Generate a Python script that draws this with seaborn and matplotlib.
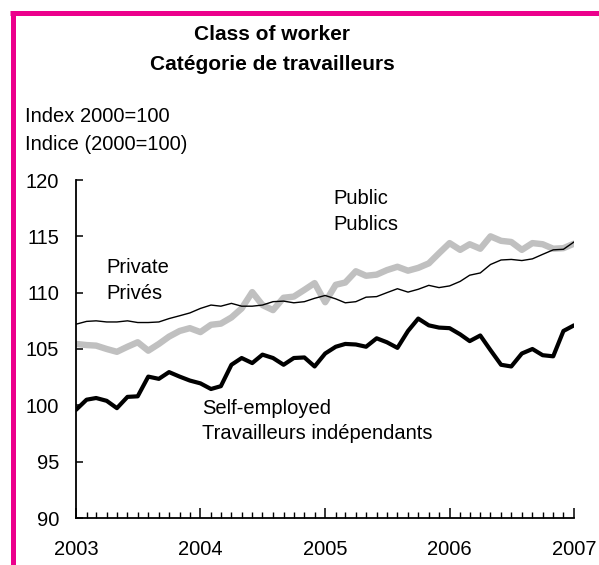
import numpy as np
import pandas as pd
import matplotlib
matplotlib.use("Agg")
import matplotlib.pyplot as plt
import matplotlib.dates as mdates
from matplotlib.lines import Line2D
import seaborn as sns

# monthly index values, Jan 2003 .. Jan 2007
months = pd.date_range("2003-01-01", "2007-01-01", freq="MS")

private = [
    107.2, 107.45, 107.5, 107.4, 107.4, 107.5, 107.35, 107.35, 107.4, 107.7,
    107.95, 108.2, 108.6, 108.9, 108.8, 109.05, 108.8, 108.8, 108.9, 109.2,
    109.25, 109.1, 109.2, 109.5, 109.75, 109.45, 109.1, 109.2, 109.6, 109.65,
    110.0, 110.35, 110.05, 110.3, 110.65, 110.45, 110.6, 111.0, 111.55, 111.75,
    112.5, 112.9, 112.95, 112.85, 113.0, 113.4, 113.8, 113.85, 114.5,
]
public = [
    105.45, 105.35, 105.3, 105.0, 104.75, 105.2, 105.6, 104.85, 105.45, 106.1,
    106.6, 106.85, 106.5, 107.15, 107.25, 107.8, 108.6, 110.05, 108.9, 108.45,
    109.55, 109.65, 110.25, 110.85, 109.15, 110.7, 110.9, 111.9, 111.5, 111.6,
    112.0, 112.3, 111.95, 112.2, 112.6, 113.5, 114.4, 113.8, 114.3, 113.9,
    115.0, 114.6, 114.5, 113.8, 114.4, 114.3, 113.9, 113.95, 114.35,
]
self_employed = [
    99.6, 100.5, 100.65, 100.4, 99.75, 100.75, 100.8, 102.55, 102.35, 102.95,
    102.55, 102.2, 101.95, 101.45, 101.7, 103.6, 104.2, 103.75, 104.5, 104.2,
    103.6, 104.2, 104.25, 103.45, 104.6, 105.2, 105.45, 105.4, 105.2, 105.95,
    105.6, 105.1, 106.6, 107.7, 107.1, 106.9, 106.85, 106.3, 105.7, 106.2,
    104.9, 103.6, 103.45, 104.6, 105.0, 104.45, 104.35, 106.6, 107.1,
]

df = pd.DataFrame({"date": months, "private": private,
                   "public": public, "self_employed": self_employed})

sns.set_style("ticks")
plt.rcParams["font.family"] = ["Liberation Sans", "DejaVu Sans"]
plt.rcParams.update({"text.color": "black", "axes.labelcolor": "black",
                     "xtick.color": "black", "ytick.color": "black"})

fig = plt.figure(figsize=(5.99, 5.65), dpi=100)
ax = fig.add_axes([76 / 599, 1 - 518 / 565, 498 / 599, 338 / 565])

sns.lineplot(data=df, x="date", y="public", ax=ax, color="#c0c0c0", linewidth=4.6)
sns.lineplot(data=df, x="date", y="private", ax=ax, color="black", linewidth=1.0)
sns.lineplot(data=df, x="date", y="self_employed", ax=ax, color="black", linewidth=3.0)

ax.set_xlim(pd.Timestamp("2003-01-01"), pd.Timestamp("2007-01-01"))
ax.set_ylim(90, 120)
ax.set_yticks(np.arange(90, 121, 5))
ax.xaxis.set_major_locator(mdates.YearLocator())
ax.xaxis.set_major_formatter(mdates.DateFormatter("%Y"))
ax.xaxis.set_minor_locator(mdates.MonthLocator())
ax.set_xlabel("")
ax.set_ylabel("")
sns.despine(ax=ax)
for s in ("left", "bottom"):
    ax.spines[s].set_linewidth(1.3)
    ax.spines[s].set_color("black")
ax.tick_params(axis="y", direction="in", length=5, width=1.1, labelsize=14.5, pad=12,
               colors="black")
ax.tick_params(axis="x", which="major", direction="in", length=7, width=1.1,
               labelsize=14.5, pad=16, colors="black")
ax.tick_params(axis="x", which="minor", direction="in", length=4, width=1.0,
               colors="black")

fs = 14.5
ax.text(pd.Timestamp("2003-04-01"), 111.1, "Private\nPrivés", fontsize=fs,
        ha="left", va="center", linespacing=1.45, color="black")
ax.text(pd.Timestamp("2005-01-25"), 117.2, "Public\nPublics", fontsize=fs,
        ha="left", va="center", linespacing=1.45, color="black")
ax.text(pd.Timestamp("2004-01-05"), 98.6, "Self-employed\nTravailleurs indépendants",
        fontsize=fs, ha="left", va="center", linespacing=1.45, color="black")

fig.text(272 / 599, 1 - 34 / 565, "Class of worker", fontsize=15, fontweight="bold",
         ha="center", va="center", color="black")
fig.text(272 / 599, 1 - 64 / 565, "Catégorie de travailleurs", fontsize=15,
         fontweight="bold", ha="center", va="center", color="black")
fig.text(25 / 599, 1 - 117 / 565, "Index 2000=100", fontsize=fs, ha="left",
         va="center", color="black")
fig.text(25 / 599, 1 - 145 / 565, "Indice (2000=100)", fontsize=fs, ha="left",
         va="center", color="black")

# pink frame on top and left edges
pink = "#ec008c"
fig.add_artist(Line2D([10 / 599, 1], [1 - 12.5 / 565] * 2, color=pink, linewidth=3.6,
                      transform=fig.transFigure, solid_capstyle="butt"))
fig.add_artist(Line2D([12.5 / 599] * 2, [0, 1 - 10.5 / 565], color=pink, linewidth=3.6,
                      transform=fig.transFigure, solid_capstyle="butt"))

fig.savefig("out.png", dpi=100)
